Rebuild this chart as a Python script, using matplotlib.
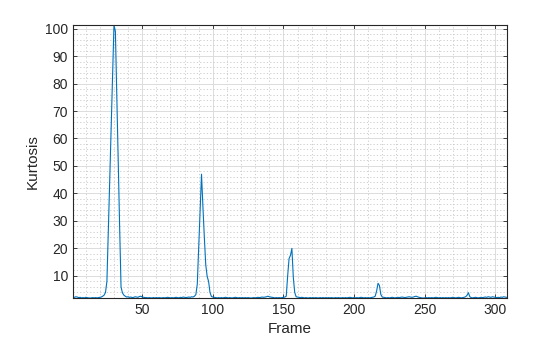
import matplotlib
matplotlib.use('Agg')
import matplotlib.pyplot as plt
from matplotlib.ticker import MultipleLocator

# kurtosis per frame (frames 1..308)
kurtosis = [
    2.3, 2.2, 2.4, 2.3, 2.1, 2.2, 2.0, 2.1, 2.0, 2.2,
    2.1, 2.0, 1.95, 2.0, 2.1, 2.0, 2.1, 2.0, 2.1, 2.2,
    2.3, 2.6, 3.0, 4.0, 8.0, 26.0, 45.0, 64.0, 83.0, 101.3,
    99.0, 76.0, 52.0, 28.0, 6.0, 3.8, 3.0, 2.6, 2.3, 2.4,
    2.2, 2.3, 2.1, 2.2, 2.4, 2.3, 2.2, 2.5, 2.6, 2.3,
    2.2, 2.1, 2.1, 2.0, 2.1, 2.0, 2.0, 2.1, 2.0, 2.1,
    2.0, 2.1, 2.0, 2.0, 2.1, 2.0, 2.1, 2.2, 2.1, 2.0,
    2.1, 2.0, 2.1, 2.2, 2.1, 2.0, 2.2, 2.1, 2.3, 2.2,
    2.1, 2.2, 2.3, 2.2, 2.4, 2.3, 2.6, 3.2, 7.0, 20.0,
    34.0, 47.0, 35.0, 24.0, 14.0, 9.8, 8.0, 4.0, 2.5, 2.3,
    2.2, 2.1, 2.0, 2.1, 2.0, 2.1, 2.0, 2.1, 2.2, 2.1,
    2.0, 2.1, 2.0, 2.0, 2.1, 2.2, 2.1, 2.0, 2.1, 2.0,
    2.1, 2.0, 2.1, 2.0, 2.1, 2.0, 1.95, 2.0, 2.1, 2.0,
    2.1, 2.2, 2.1, 2.2, 2.3, 2.2, 2.3, 2.4, 2.6, 2.4,
    2.3, 2.2, 2.1, 2.0, 2.1, 2.0, 2.1, 2.0, 2.1, 2.2,
    2.3, 2.6, 10.0, 16.3, 17.5, 20.0, 9.5, 4.0, 2.4, 2.3,
    2.2, 2.1, 2.2, 2.1, 2.0, 2.1, 2.0, 2.0, 2.1, 2.0,
    2.1, 2.0, 2.1, 2.0, 2.0, 2.1, 2.0, 2.1, 2.0, 2.1,
    2.0, 2.1, 2.0, 2.1, 2.0, 2.0, 2.1, 2.0, 2.1, 2.0,
    2.0, 2.1, 2.0, 2.1, 2.0, 2.1, 2.2, 2.1, 2.0, 2.1,
    2.0, 2.1, 2.0, 2.1, 2.2, 2.1, 2.0, 2.1, 2.0, 2.1,
    2.0, 2.1, 2.2, 2.3, 2.6, 4.5, 7.3, 6.5, 3.2, 2.3,
    2.2, 2.1, 2.0, 2.1, 2.0, 2.1, 2.2, 2.1, 2.0, 2.1,
    2.2, 2.1, 2.2, 2.3, 2.2, 2.1, 2.2, 2.3, 2.4, 2.3,
    2.2, 2.3, 2.5, 2.6, 2.4, 2.2, 2.1, 2.0, 1.95, 2.0,
    2.1, 2.0, 2.1, 2.0, 2.1, 2.0, 2.1, 2.2, 2.1, 2.0,
    2.1, 2.0, 2.1, 2.0, 2.1, 2.0, 2.1, 2.0, 2.1, 2.2,
    2.1, 2.0, 2.1, 2.2, 2.1, 2.0, 2.1, 2.2, 2.4, 2.9,
    3.9, 2.4, 2.1, 2.0, 2.1, 2.2, 2.1, 2.0, 2.1, 2.2,
    2.1, 2.2, 2.3, 2.2, 2.4, 2.3, 2.2, 2.4, 2.3, 2.2,
    2.1, 2.2, 2.1, 2.3, 2.2, 2.4, 2.3, 2.2,
]
frames = list(range(1, len(kurtosis) + 1))

xticks = [50, 100, 150, 200, 250, 300]
yticks = [10, 20, 30, 40, 50, 60, 70, 80, 90, 100]

plt.rcParams['font.family'] = ['Liberation Sans', 'DejaVu Sans']

fig = plt.figure(figsize=(5.6, 3.37), dpi=100)
ax = fig.add_axes([0.1304, 0.1157, 0.7741, 0.8101])

ax.plot(frames, kurtosis, color='#0072BD', linewidth=0.8)

ax.set_xlim(frames[0], frames[-1])
ax.set_ylim(min(kurtosis), max(kurtosis))
ax.set_xticks(xticks)
ax.set_yticks(yticks)
ax.xaxis.set_minor_locator(MultipleLocator(10))
ax.yaxis.set_minor_locator(MultipleLocator(2))

ax.grid(which='major', color='#dcdcdc', linewidth=0.7)
ax.grid(which='minor', color='#c8c8c8', linestyle=(0, (1.5, 2.5)), linewidth=0.6)
ax.set_axisbelow(True)

ax.tick_params(which='major', direction='in', length=3, width=0.6,
               top=True, right=True, labelsize=10, colors='#262626')
ax.tick_params(which='minor', length=0)
for s in ax.spines.values():
    s.set_color('#262626')
    s.set_linewidth(0.8)

ax.set_xlabel('Frame', fontsize=11, color='#262626', labelpad=4)
ax.set_ylabel('Kurtosis', fontsize=11, color='#262626', labelpad=4)

fig.savefig('out.png', dpi=100)
